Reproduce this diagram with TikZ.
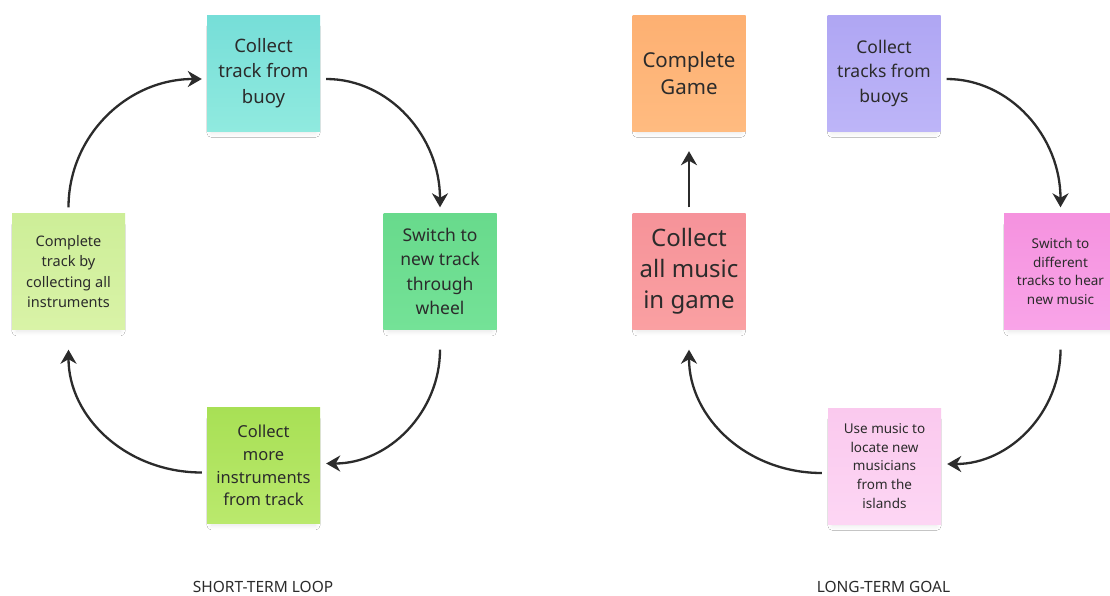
\documentclass[tikz,border=0pt]{standalone}
\usepackage{fontspec}
\setmainfont{Noto Sans}
\usetikzlibrary{arrows.meta,shadows.blur}
\definecolor{ink}{HTML}{2B2B2B}
\definecolor{cyA}{HTML}{76DED8}\definecolor{cyB}{HTML}{90EADF}
\definecolor{grA}{HTML}{68DA8C}\definecolor{grB}{HTML}{74E297}
\definecolor{lgA}{HTML}{CDEE98}\definecolor{lgB}{HTML}{D9F3A7}
\definecolor{ygA}{HTML}{A8E055}\definecolor{ygB}{HTML}{BAE96D}
\definecolor{orA}{HTML}{FDB072}\definecolor{orB}{HTML}{FFBB80}
\definecolor{puA}{HTML}{AFA6F3}\definecolor{puB}{HTML}{BDB5F8}
\definecolor{rdA}{HTML}{F69399}\definecolor{rdB}{HTML}{FAA0A2}
\definecolor{mgA}{HTML}{F592DF}\definecolor{mgB}{HTML}{F9A4E8}
\definecolor{lpA}{HTML}{FAC9EE}\definecolor{lpB}{HTML}{FDD6F4}
\tikzset{
  sticky/.style 2 args={rectangle, minimum width=113pt, minimum height=116pt,
    inner sep=0pt, align=center, text=ink, top color=#1, bottom color=#2,
    blur shadow={shadow xshift=0pt, shadow yshift=-7pt, shadow scale=0.92,
      shadow blur radius=5pt, shadow blur steps=8, shadow opacity=10}},
  arr/.style={draw=ink, line width=2.3pt,
    -{Stealth[length=14pt,width=16pt,inset=4.5pt]}},
  caption/.style={text=ink, font=\fontsize{15.5}{18}\selectfont}
}
\begin{document}
\begin{tikzpicture}[x=1pt,y=-1pt]
\useasboundingbox[fill=white] (0,0) rectangle (1110,595);
% left loop
\node[sticky={cyA}{cyB}, font=\fontsize{18.5}{25.5}\selectfont] (n1) at (263.5,73) {Collect\\track from\\buoy};
\node[sticky={grA}{grB}, font=\fontsize{17.5}{24.5}\selectfont] (n2) at (440,271.5) {Switch to\\new track\\through\\wheel};
\node[sticky={lgA}{lgB}, font=\fontsize{14.5}{20.5}\selectfont] (n3) at (68.5,271.5) {Complete\\track by\\collecting all\\instruments};
\node[sticky={ygA}{ygB}, font=\fontsize{16.5}{22.7}\selectfont] (n4) at (263.5,465.5) {Collect\\more\\instruments\\from track};
\node[caption] (c1) at (263,587) {SHORT-TERM LOOP};
% right loop
\node[sticky={orA}{orB}, font=\fontsize{20.5}{27}\selectfont] (n6) at (689,73) {Complete\\Game};
\node[sticky={puA}{puB}, font=\fontsize{17.5}{24.5}\selectfont] (n7) at (884,73) {Collect\\tracks from\\buoys};
\node[sticky={rdA}{rdB}, font=\fontsize{24}{31}\selectfont] (n8) at (689,271.5) {Collect\\all music\\in game};
\node[sticky={mgA}{mgB}, font=\fontsize{13.5}{18.5}\selectfont] (n9) at (1060.5,271.5) {Switch to\\different\\tracks to hear\\new music};
\node[sticky={lpA}{lpB}, font=\fontsize{13.5}{18.7}\selectfont] (n10) at (884.5,466) {Use music to\\locate new\\musicians\\from the\\islands};
\node[caption] (c2) at (883.5,587) {LONG-TERM GOAL};
% left arrows
\draw[arr] ([yshift=6pt]n3.north) .. controls +(0,-71) and +(-75,0) .. ([xshift=-5pt,yshift=-6pt]n1.west);
\draw[arr] ([xshift=6pt,yshift=-6pt]n1.east) .. controls +(63,0) and +(0,-71) .. ([yshift=6pt]n2.north);
\draw[arr] ([yshift=-20pt]n2.south) .. controls +(0,62) and +(63,0) .. ([xshift=6pt,yshift=2pt]n4.east);
\draw[arr] ([xshift=-5pt,yshift=-7pt]n4.west) .. controls +(-75,0) and +(0,68) .. ([yshift=-20pt]n3.south);
% right arrows
\draw[arr] ([yshift=6pt]n8.north) -- ([yshift=-20pt]n6.south);
\draw[arr] ([xshift=6pt,yshift=-6pt]n7.east) .. controls +(63,0) and +(0,-71) .. ([yshift=6pt]n9.north);
\draw[arr] ([yshift=-20pt]n9.south) .. controls +(0,62) and +(63,0) .. ([xshift=6pt,yshift=2pt]n10.east);
\draw[arr] ([xshift=-6pt,yshift=-7pt]n10.west) .. controls +(-75,0) and +(0,68) .. ([yshift=-20pt]n8.south);
\end{tikzpicture}
\end{document}
